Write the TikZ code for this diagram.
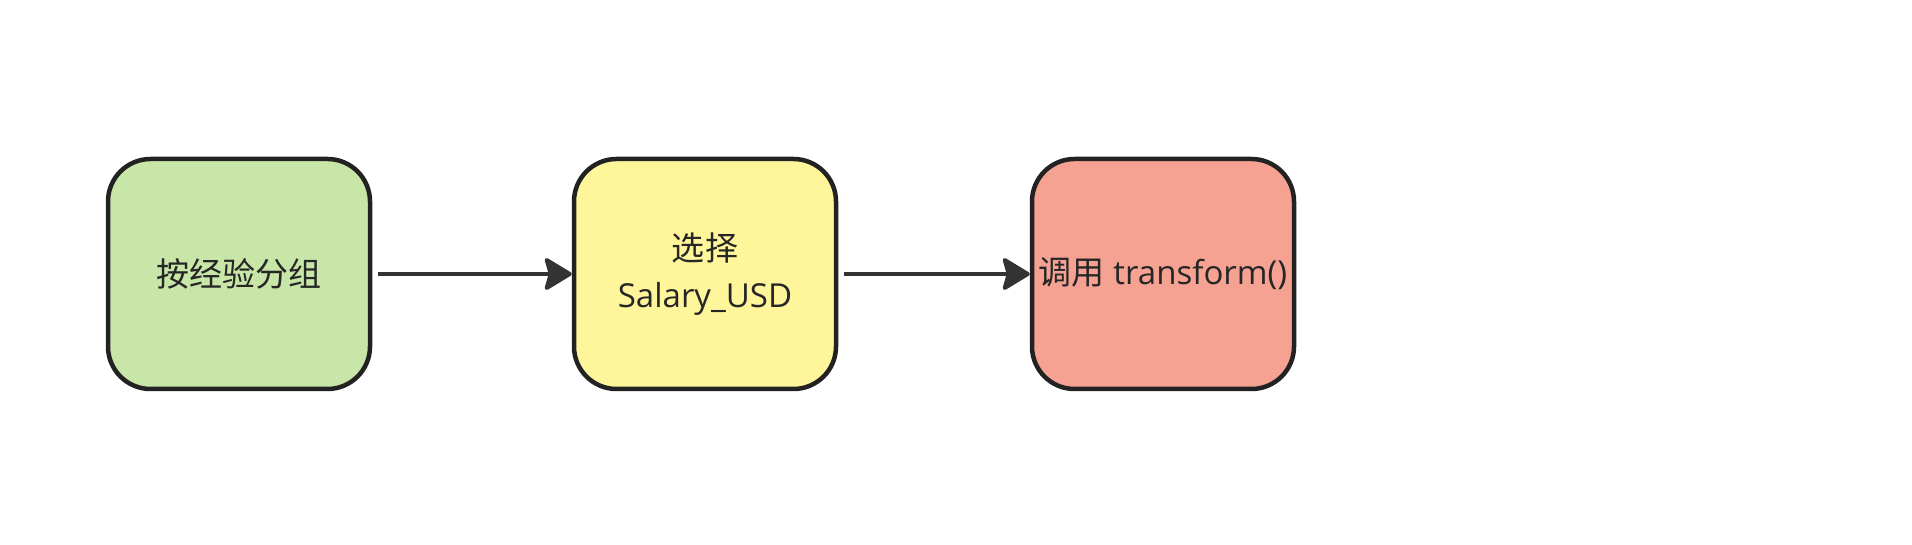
\documentclass[tikz,border=0pt]{standalone}
\usepackage{fontspec}
\setmainfont{Open Sans}
\newfontfamily\cjk{Noto Sans CJK SC}
\usepackage{tikz}
\usetikzlibrary{arrows.meta}
\definecolor{boxgreen}{HTML}{C8E6A7}
\definecolor{boxyellow}{HTML}{FFF69C}
\definecolor{boxred}{HTML}{F5A292}
\definecolor{edge}{HTML}{222222}
\definecolor{arrowgray}{HTML}{333333}

\begin{document}
\begin{tikzpicture}[
  stepbox/.style={draw=edge,line width=0.09cm,rounded corners=0.85cm,
    minimum width=5.24cm,minimum height=4.6cm,inner sep=0pt,
    align=center,font=\fontsize{18.8}{26.7}\selectfont,text=black!85},
  flow/.style={draw=arrowgray,line width=0.08cm,shorten <=0.12cm,
    -{Stealth[length=0.6cm,width=0.72cm,inset=0.1cm,round]}}
]
\useasboundingbox (0,0) rectangle (38.24,10.88);
\node[stepbox,fill=boxgreen] (group) at (4.78,5.4) {{\cjk 按经验分组}};
\node[stepbox,fill=boxyellow] (select) at (14.1,5.4) {{\cjk 选择}\\Salary\_USD};
\node[stepbox,fill=boxred] (apply) at (23.26,5.4) {{\cjk 调用} transform()};
\draw[flow] (group) -- (select);
\draw[flow] (select) -- (apply);
\end{tikzpicture}
\end{document}
